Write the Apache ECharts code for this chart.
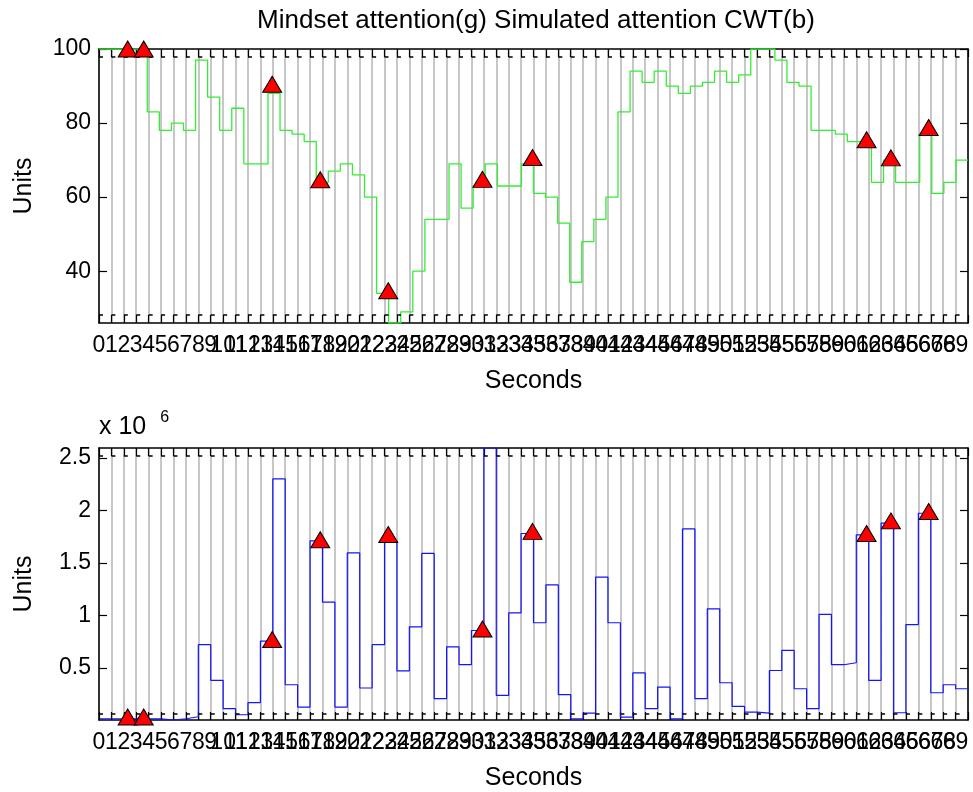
<!DOCTYPE html>
<html>
<head>
<meta charset="utf-8">
<script src="https://cdn.jsdelivr.net/npm/echarts@6/dist/echarts.min.js"></script>
<style>
  html, body { margin: 0; padding: 0; background: #fff; }
  #chart { width: 973px; height: 792px; }
</style>
</head>
<body>
<div id="chart"></div>
<script>
// Mindset attention level, one sample per step (72 samples over the 70 s window)
const attention = [100,100,100,100,83,78,80,78,97,87,78,84,69,69,88,78,77,75,64,67,
  69,66,60,34,26,29,40,54,54,69,57,63,69,63,63,69,61,60,53,37,48,54,60,83,94,91,94,90,
  88,90,91,94,91,93,100,100,97,91,90,78,78,77,75,75,64,70,64,64,77,61,64,70];

// Simulated attention from the continuous wavelet transform, one value per second
const cwt = [14000,14000,12000,12000,14000,2000,14000,33000,720000,380000,110000,52000,
  167000,754000,2300000,338000,125000,1710000,1126000,125000,1595000,307000,720000,
  1710000,470000,890000,1590000,205000,700000,530000,855000,2595000,236000,1024000,
  1780000,929000,1290000,243000,14000,68000,1364000,929000,30000,452000,110000,316000,
  14000,1824000,205000,1062000,357000,131000,78000,68000,474000,665000,300000,110000,
  1008000,529000,548000,1767000,379000,1878000,71000,912000,1973000,262000,338000,300000];

// Detected peaks (time in seconds) and their levels in each signal
const peakSeconds = [2.31, 3.60, 13.95, 17.82, 23.30, 30.89, 34.92, 61.83, 63.79, 66.83];
const peakAttention = [100, 100, 90.5, 64.7, 34.7, 64.8, 70.7, 75.5, 70.6, 78.8];
const peakCwt = [30000, 30000, 770000, 1720000, 1770000, 870000, 1800000, 1780000, 1900000, 1990000];

// Tick labels
const secondLabels = Array.from({ length: 70 }, (_, i) => String(i));
const attentionTicks = [40, 60, 80, 100];
const cwtTicks = [500000, 1000000, 1500000, 2000000, 2500000];
const secondsMax = 70;

const FONT = "'Liberation Sans', Arial, Helvetica, sans-serif";
const FS = 23;      // tick labels
const FS_NAME = 25; // axis names
const GL = 99, GW = 869, GH = 274;
const TOPS = [49, 448];

// stairs: each value holds until the next sample
function stairs(values) {
  const pts = values.map((v, i) => [i, v]);
  pts.push([values.length, values[values.length - 1]]);
  return pts;
}

const chart = echarts.init(document.getElementById('chart'), null, { renderer: 'canvas' });

// one tick, grid line and label per second; the last slot is the right edge
function secondsAxis(grid, pos, labels) {
  return {
    type: 'category', gridIndex: grid, position: pos, boundaryGap: false,
    data: secondLabels.concat(['']),
    axisLine: { show: true, onZero: false, lineStyle: { color: '#000', width: 1.5 } },
    axisTick: { show: true, inside: true, length: 8, interval: 0, lineStyle: { color: '#000', width: 1.2 } },
    axisLabel: labels ? {
      show: true, interval: 0, fontSize: FS, fontFamily: FONT, color: '#000', margin: 11
    } : { show: false },
    splitLine: labels ? { show: true, interval: 0, lineStyle: { color: '#b9b9b9', width: 1.6 } } : { show: false },
    name: labels ? 'Seconds' : '',
    nameLocation: 'middle', nameGap: 46,
    nameTextStyle: { fontSize: FS_NAME, fontFamily: FONT, color: '#000' }
  };
}

function hiddenValueAxis(grid, max) {
  return { type: 'value', gridIndex: grid, min: 0, max: max, show: false };
}

function levelAxis(grid, pos, min, max, ticks, fmt, labels) {
  return {
    type: 'value', gridIndex: grid, position: pos, min: min, max: max,
    axisLine: { show: true, onZero: false, lineStyle: { color: '#000', width: 1.5 } },
    axisTick: { show: true, inside: true, length: 8, customValues: ticks, lineStyle: { color: '#000', width: 1.2 } },
    axisLabel: labels ? { show: true, customValues: ticks, fontSize: FS, fontFamily: FONT, color: '#000', margin: 8, formatter: fmt } : { show: false },
    splitLine: { show: false },
    name: labels ? 'Units' : '',
    nameLocation: 'middle', nameGap: 62,
    nameTextStyle: { fontSize: FS_NAME, fontFamily: FONT, color: '#000' }
  };
}

const attMin = Math.min(...attention), attMax = Math.max(...attention);
const cwtMin = Math.min(...cwt), cwtMax = Math.max(...cwt);

// dotted guide lines just inside the top and bottom edges of each panel
const guides = [];
TOPS.forEach(t => {
  [t + 8, t + GH - 8].forEach(y => {
    guides.push({
      type: 'line', z: 5, silent: true,
      shape: { x1: GL, y1: y, x2: GL + GW, y2: y },
      style: { stroke: '#000', lineWidth: 1.5, lineDash: [4, GW / secondsMax - 4] }
    });
  });
});

const triangle = {
  type: 'scatter', symbol: 'triangle', symbolSize: [19, 16], clip: false, z: 10,
  itemStyle: { color: '#ff0000', borderColor: '#000', borderWidth: 1, opacity: 1 }
};

chart.setOption({
  animation: false,
  backgroundColor: '#fff',
  title: {
    text: 'Mindset attention(g) Simulated attention CWT(b)',
    left: 531, top: 3, textAlign: 'center',
    textStyle: { fontSize: 26, fontWeight: 'normal', fontFamily: FONT, color: '#000' }
  },
  graphic: guides.concat([{
    type: 'text', left: 99, top: 410,
    style: {
      text: '{a|x 10}{b|6}',
      rich: {
        a: { fontSize: 25, fontFamily: FONT, fill: '#000', verticalAlign: 'bottom', lineHeight: 30 },
        b: { fontSize: 16, fontFamily: FONT, fill: '#000', verticalAlign: 'top', padding: [0, 0, 0, 14] }
      }
    }
  }]),
  grid: [
    { left: GL, top: TOPS[0], width: GW, height: GH },
    { left: GL, top: TOPS[1], width: GW, height: GH }
  ],
  xAxis: [
    secondsAxis(0, 'bottom', true),          // 0
    secondsAxis(0, 'top', false),            // 1
    hiddenValueAxis(0, attention.length),    // 2: attention samples
    hiddenValueAxis(0, secondsMax),          // 3: seconds, top panel marks
    secondsAxis(1, 'bottom', true),          // 4
    secondsAxis(1, 'top', false),            // 5
    hiddenValueAxis(1, secondsMax)           // 6: seconds, bottom panel marks
  ],
  yAxis: [
    levelAxis(0, 'left', attMin, attMax, attentionTicks, v => String(v), true),
    levelAxis(0, 'right', attMin, attMax, attentionTicks, null, false),
    levelAxis(1, 'left', cwtMin, cwtMax, cwtTicks, v => String(v / 1e6), true),
    levelAxis(1, 'right', cwtMin, cwtMax, cwtTicks, null, false)
  ],
  series: [
    {
      type: 'line', xAxisIndex: 2, yAxisIndex: 0, step: 'end', showSymbol: false,
      data: stairs(attention), z: 3,
      lineStyle: { color: '#33ee33', width: 1.3 }
    },
    Object.assign({ xAxisIndex: 3, yAxisIndex: 0, data: peakSeconds.map((s, i) => [s, peakAttention[i]]) }, triangle),
    {
      type: 'line', xAxisIndex: 6, yAxisIndex: 2, step: 'end', showSymbol: false,
      data: stairs(cwt), z: 3,
      lineStyle: { color: '#1414ff', width: 1.2 }
    },
    Object.assign({ xAxisIndex: 6, yAxisIndex: 2, data: peakSeconds.map((s, i) => [s, peakCwt[i]]) }, triangle)
  ]
});
</script>
</body>
</html>
